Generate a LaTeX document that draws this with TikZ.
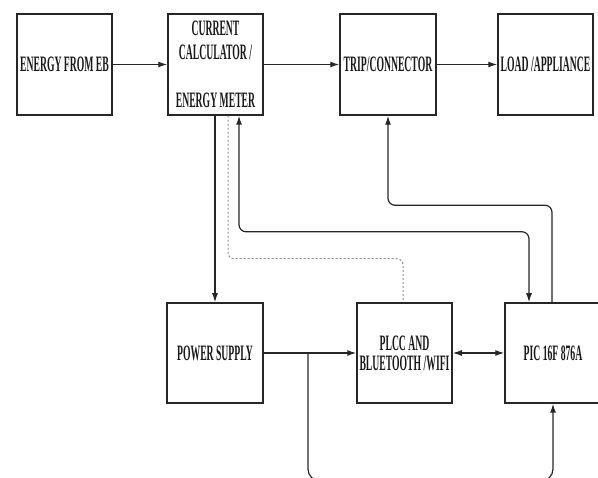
\documentclass[tikz,border=0pt]{standalone}
\usepackage{fontspec}
\setmainfont{Liberation Serif}
\usetikzlibrary{arrows.meta}
\newcommand{\sq}[1]{\scalebox{0.44}[1]{\bfseries #1}}
\begin{document}
\begin{tikzpicture}[x=1pt,y=-1pt,
  box/.style={draw=black!85, line width=1.5pt, minimum width=95pt, minimum height=101pt,
    inner sep=0pt, font=\fontsize{22}{24}\selectfont, align=center, text=black!90},
  tip/.style={},
  conn/.style={draw=black!85, line width=1.2pt, rounded corners=7pt, -{Latex[length=9pt,width=6pt]}},
  dbl/.style={draw=black!85, line width=1.2pt, rounded corners=7pt, {Latex[length=9pt,width=6pt]}-{Latex[length=9pt,width=6pt]}},
  dotline/.style={draw=black!45, line width=1pt, rounded corners=6pt, dash pattern=on 2pt off 2pt}]
\useasboundingbox (0,0) rectangle (598,478);
\node[box] (eb) at (64.5,64.5) {\sq{ENERGY FROM EB}};
\node[box] (calc) at (215.5,64.5) {\sq{CURRENT}\\\sq{CALCULATOR /}\\[24pt]\sq{ENERGY METER}};
\node[box, minimum width=96pt] (trip) at (388,64.5) {\sq{TRIP/CONNECTOR}};
\node[box] (load) at (545.5,64.5) {\sq{LOAD /APPLIANCE}};
\node[box, minimum width=96pt, minimum height=100pt] (ps) at (215,353) {\sq{POWER SUPPLY}};
\node[box, minimum height=100pt, font=\fontsize{22}{20}\selectfont] (plcc) at (404.5,353) {\sq{PLCC AND}\\\sq{BLUETOOTH /WIFI}};
\node[box, minimum width=96pt, minimum height=100pt] (pic) at (553,353) {\sq{PIC 16F 876A}};
\coordinate (br) at (308,353);
\draw[conn] (eb) -- (calc);
\draw[conn] (calc) -- (trip);
\draw[conn] (trip) -- (load);
\draw[conn] (ps.north |- calc.south) -- (ps.north);
\draw[dotline] ([xshift=12.5pt]calc.south) -- ++(0,143) -| ([xshift=-1.5pt]plcc.north);
\draw[dbl] ([xshift=23.5pt]calc.south) -- ++(0,116) -| ([xshift=-24pt]pic.north);
\draw[conn] ([xshift=-1pt]pic.north) -- ++(0,-97) -| (trip.south);
\draw[conn] (ps) -- (plcc);
\draw[dbl] (plcc) -- (pic);
\draw[conn, rounded corners=12pt] (br) -- ++(0,128) -| (pic.south);
\end{tikzpicture}
\end{document}
